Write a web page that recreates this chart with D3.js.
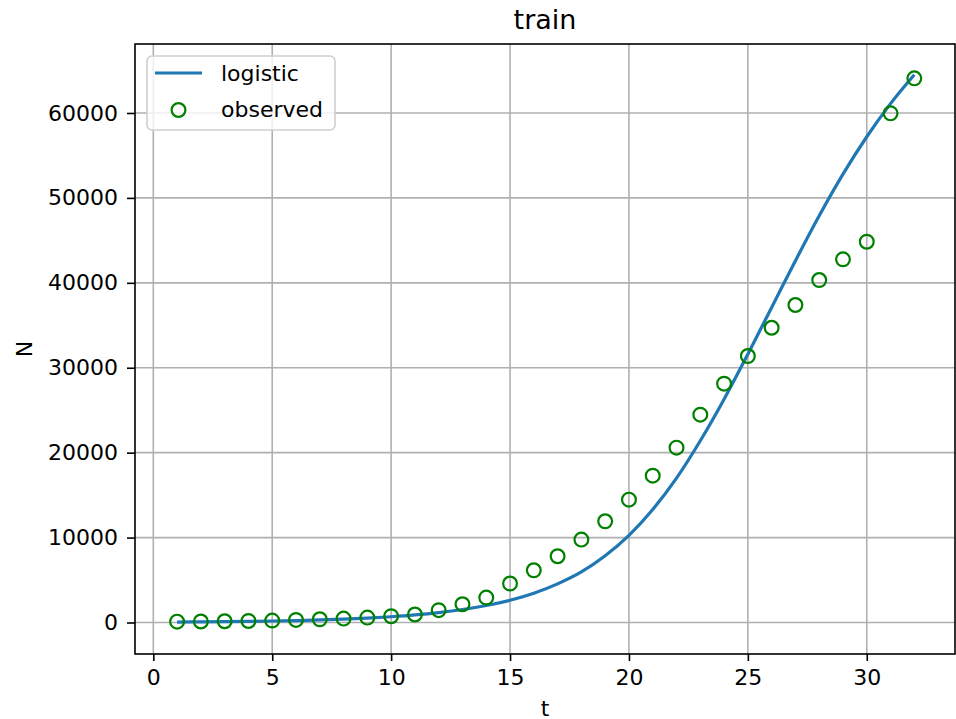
<!DOCTYPE html>
<html>
<head>
<meta charset="utf-8">
<script src="https://cdn.jsdelivr.net/npm/d3@7"></script>
<style>
  html, body { margin: 0; padding: 0; background: #fff; }
  text { font-family: "DejaVu Sans", sans-serif; fill: #000; }
</style>
</head>
<body>
<div id="chart"></div>
<script>
// values
var tValues = [1, 2, 3, 4, 5, 6, 7, 8, 9, 10, 11, 12, 13, 14, 15, 16,
               17, 18, 19, 20, 21, 22, 23, 24, 25, 26, 27, 28, 29, 30, 31, 32];
var observed = [100, 120, 150, 180, 230, 300, 380, 460, 580, 740, 940, 1450,
                2150, 2940, 4590, 6150, 7800, 9760, 11920, 14470, 17290, 20590,
                24470, 28120, 31380, 34710, 37390, 40330, 42770, 44840, 59960, 64080];
var logistic = [55, 75, 100, 135, 175, 230, 300, 400, 520, 680, 890, 1170,
                1530, 2000, 2620, 3450, 4550, 5950, 7850, 10250, 13300, 17000,
                21400, 26300, 31600, 37100, 42600, 47900, 52800, 57200, 61100, 64500];
var xTicks = [0, 5, 10, 15, 20, 25, 30];
var yTicks = [0, 10000, 20000, 30000, 40000, 50000, 60000];
var legendLabels = ["logistic", "observed"];

var W = 956, H = 719;
var plot = {left: 135, right: 955, top: 44, bottom: 654};

var svg = d3.select("#chart").append("svg")
    .attr("width", W)
    .attr("height", H);

var x = d3.scaleLinear().domain([-0.77, 33.71]).range([plot.left, plot.right]);
var y = d3.scaleLinear().domain([-3709, 68124]).range([plot.bottom, plot.top]);

svg.append("defs").append("clipPath").attr("id", "clip")
  .append("rect")
    .attr("x", plot.left).attr("y", plot.top)
    .attr("width", plot.right - plot.left)
    .attr("height", plot.bottom - plot.top);

// grid
var grid = svg.append("g");
grid.selectAll(".gx").data(xTicks).enter().append("line")
    .attr("x1", function(d) { return x(d); })
    .attr("x2", function(d) { return x(d); })
    .attr("y1", plot.top).attr("y2", plot.bottom)
    .style("stroke", "#b0b0b0").style("stroke-width", 1.6);
grid.selectAll(".gy").data(yTicks).enter().append("line")
    .attr("y1", function(d) { return y(d); })
    .attr("y2", function(d) { return y(d); })
    .attr("x1", plot.left).attr("x2", plot.right)
    .style("stroke", "#b0b0b0").style("stroke-width", 1.6);

// axes
var xAxis = svg.append("g")
    .attr("transform", "translate(0," + plot.bottom + ")")
    .call(d3.axisBottom(x).tickValues(xTicks).tickSize(7).tickPadding(8).tickFormat(d3.format("d")));
var yAxis = svg.append("g")
    .attr("transform", "translate(" + plot.left + ",0)")
    .call(d3.axisLeft(y).tickValues(yTicks).tickSize(8).tickPadding(9).tickFormat(d3.format("d")));
[xAxis, yAxis].forEach(function(a) {
  a.select(".domain").remove();
  a.selectAll(".tick line").style("stroke", "#000").style("stroke-width", 1.6);
  a.selectAll(".tick text")
    .style("font-family", "'DejaVu Sans', sans-serif")
    .style("font-size", "22px")
    .style("fill", "#000");
});

// data
var g = svg.append("g").attr("clip-path", "url(#clip)");
var lineData = tValues.map(function(t, i) { return [t, logistic[i]]; });
g.append("path")
    .datum(lineData)
    .attr("d", d3.line()
        .x(function(d) { return x(d[0]); })
        .y(function(d) { return y(d[1]); })
        .curve(d3.curveMonotoneX))
    .style("fill", "none")
    .style("stroke", "#1f77b4")
    .style("stroke-width", 3.2);

g.selectAll(".obs").data(tValues).enter().append("circle")
    .attr("cx", function(d) { return x(d); })
    .attr("cy", function(d, i) { return y(observed[i]); })
    .attr("r", 6.9)
    .style("fill", "none")
    .style("stroke", "#008000")
    .style("stroke-width", 2.2);

// frame
svg.append("rect")
    .attr("x", plot.left).attr("y", plot.top)
    .attr("width", plot.right - plot.left)
    .attr("height", plot.bottom - plot.top)
    .style("fill", "none").style("stroke", "#000").style("stroke-width", 1.6);

// legend
var lg = svg.append("g");
lg.append("rect")
    .attr("x", 147).attr("y", 56)
    .attr("width", 188).attr("height", 74)
    .attr("rx", 5)
    .style("fill", "#fff").style("fill-opacity", 0.8)
    .style("stroke", "#d0d0d0").style("stroke-width", 1.6);
lg.append("line")
    .attr("x1", 155).attr("x2", 202).attr("y1", 73).attr("y2", 73)
    .style("stroke", "#1f77b4").style("stroke-width", 3.2);
lg.append("circle")
    .attr("cx", 178.5).attr("cy", 110).attr("r", 6.9)
    .style("fill", "none").style("stroke", "#008000").style("stroke-width", 2.2);
lg.selectAll(".lt").data(legendLabels).enter().append("text")
    .attr("x", 221)
    .attr("y", function(d, i) { return 81 + i * 36; })
    .style("font-size", "22px")
    .text(function(d) { return d; });

// titles
svg.append("text")
    .attr("x", (plot.left + plot.right) / 2).attr("y", 29)
    .attr("text-anchor", "middle")
    .style("font-size", "27px")
    .text("train");
svg.append("text")
    .attr("x", (plot.left + plot.right) / 2).attr("y", 716)
    .attr("text-anchor", "middle")
    .style("font-size", "22px")
    .text("t");
svg.append("text")
    .attr("transform", "translate(32," + ((plot.top + plot.bottom) / 2) + ") rotate(-90)")
    .attr("text-anchor", "middle")
    .style("font-size", "22px")
    .text("N");
</script>
</body>
</html>
